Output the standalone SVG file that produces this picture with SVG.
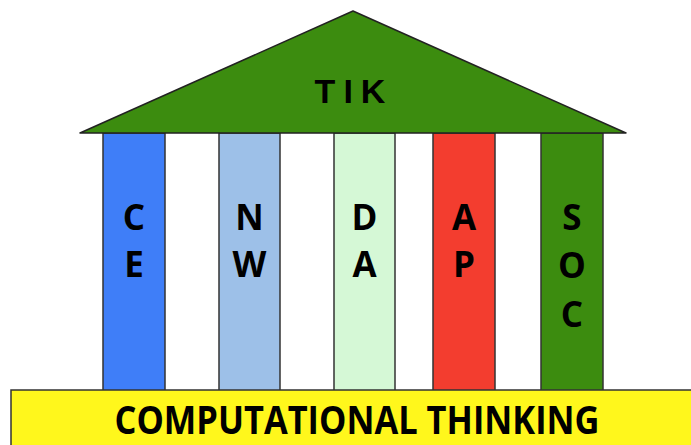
<svg xmlns="http://www.w3.org/2000/svg" width="691" height="445" viewBox="0 0 691 445">
  <style>
    .pillar { stroke: #333333; stroke-width: 1.5; }
    .letter { font-family: "Open Sans", "Liberation Sans", sans-serif; font-weight: bold; font-size: 35px; fill: #000000; text-anchor: middle; }
    .roof-label { font-family: "Liberation Sans", Arial, sans-serif; font-weight: bold; font-size: 34px; fill: #000000; text-anchor: middle; letter-spacing: 8px; }
    .base-label { font-family: "Open Sans", "Liberation Sans", sans-serif; font-weight: bold; font-size: 39px; fill: #000000; text-anchor: middle; }
  </style>
  <rect width="691" height="445" fill="#ffffff"/>

  <!-- Pillars -->
  <g id="pillar-ce">
    <rect class="pillar" x="103" y="133" width="62" height="259" fill="#3f7ef8"/>
    <text class="letter" x="134" y="230">C</text>
    <text class="letter" x="134" y="277">E</text>
  </g>
  <g id="pillar-nw">
    <rect class="pillar" x="219" y="133" width="61" height="259" fill="#9dc0e8"/>
    <text class="letter" x="249.5" y="230">N</text>
    <text class="letter" x="249.5" y="277">W</text>
  </g>
  <g id="pillar-da">
    <rect class="pillar" x="334" y="133" width="61" height="259" fill="#d5f8d6"/>
    <text class="letter" x="364.5" y="230">D</text>
    <text class="letter" x="364.5" y="277">A</text>
  </g>
  <g id="pillar-ap">
    <rect class="pillar" x="433" y="133" width="62" height="259" fill="#f33d2f"/>
    <text class="letter" x="464" y="230">A</text>
    <text class="letter" x="464" y="277">P</text>
  </g>
  <g id="pillar-soc">
    <rect class="pillar" x="541" y="133" width="62" height="259" fill="#3c8c0f"/>
    <text class="letter" x="572" y="230">S</text>
    <text class="letter" x="572" y="278">O</text>
    <text class="letter" x="572" y="327">C</text>
  </g>

  <!-- Foundation -->
  <g id="base">
    <rect x="11" y="390" width="690" height="60" fill="#fff71c" stroke="#333333" stroke-width="1.5"/>
    <text class="base-label" x="357" y="434" textLength="485" lengthAdjust="spacingAndGlyphs">COMPUTATIONAL THINKING</text>
  </g>

  <!-- Roof -->
  <g id="roof">
    <polygon points="80,133 353,11 626,133" fill="#3c8c0f" stroke="#222222" stroke-width="1.5" stroke-linejoin="round"/>
    <text class="roof-label" x="354" y="103">TIK</text>
  </g>
</svg>
